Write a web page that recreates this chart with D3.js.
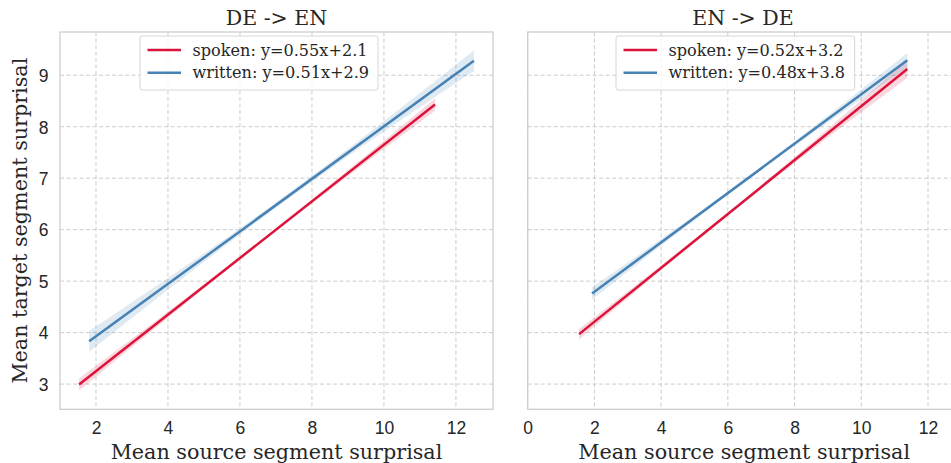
<!DOCTYPE html>
<html lang="en">
<head>
    <meta charset="UTF-8">
    <title>Surprisal regression</title>
    <script src="https://d3js.org/d3.v7.min.js"></script>
    <style>
        body {
            margin: 0;
            background: #fff;
            font-family: "DejaVu Serif", serif;
        }
        .grid line {
            stroke: #cccccc;
            stroke-dasharray: 4,2.5;
            stroke-width: 1;
        }
        .tick text {
            fill: #262626;
            font-size: 17.5px;
        }
    </style>
</head>
<body>
    <div id="chart"></div>
    <script>
        // values
        const panels = ['DE -> EN', 'EN -> DE'];
        const groups = ['spoken', 'written'];
        const legendLabels = [
            ['spoken: y=0.55x+2.1', 'written: y=0.51x+2.9'],
            ['spoken: y=0.52x+3.2', 'written: y=0.48x+3.8']
        ];
        const xDomains = [[1.0, 13.03], [0, 12.98]];
        const yDomain = [2.51, 9.84];
        const xTicks = [[2, 4, 6, 8, 10, 12], [0, 2, 4, 6, 8, 10, 12]];
        const yTicks = [3, 4, 5, 6, 7, 8, 9];

        // fitted line endpoints per panel / group
        const lineX = [
            [[1.53, 11.42], [1.81, 12.5]],
            [[1.54, 11.38], [1.93, 11.38]]
        ];
        const lineY = [
            [[2.99, 8.43], [3.83, 9.28]],
            [[3.97, 9.12], [4.76, 9.29]]
        ];
        // confidence band half-width at start, middle and end of each line
        const bandHalf = [
            [[0.12, 0.03, 0.12], [0.2, 0.05, 0.2]],
            [[0.1, 0.03, 0.17], [0.12, 0.03, 0.14]]
        ];

        const colors = ['#dc143c', '#4682b4'];

        const width = 951, height = 463;
        const plotLeft = [60, 527.7];
        const plotW = 433;
        const plotTop = 32, plotBottom = 409.3;

        const svg = d3.select('#chart').append('svg')
            .attr('width', width)
            .attr('height', height);

        const y = d3.scaleLinear().domain(yDomain).range([plotBottom, plotTop]);

        panels.forEach((title, p) => {
            const x = d3.scaleLinear().domain(xDomains[p]).range([plotLeft[p], plotLeft[p] + plotW]);
            const g = svg.append('g');

            // grid
            g.append('g').attr('class', 'grid')
                .selectAll('line.v').data(xTicks[p]).enter().append('line')
                .attr('x1', d => x(d)).attr('x2', d => x(d))
                .attr('y1', plotTop).attr('y2', plotBottom);
            g.append('g').attr('class', 'grid')
                .selectAll('line.h').data(yTicks).enter().append('line')
                .attr('x1', plotLeft[p]).attr('x2', plotLeft[p] + plotW)
                .attr('y1', d => y(d)).attr('y2', d => y(d));

            // bands + lines
            groups.forEach((grp, i) => {
                const [x0, x1] = lineX[p][i];
                const [y0, y1] = lineY[p][i];
                const pts = [
                    { x: x0, y: y0, h: bandHalf[p][i][0] },
                    { x: (x0 + x1) / 2, y: (y0 + y1) / 2, h: bandHalf[p][i][1] },
                    { x: x1, y: y1, h: bandHalf[p][i][2] }
                ];
                const area = d3.area()
                    .curve(d3.curveNatural)
                    .x(d => x(d.x))
                    .y0(d => y(d.y - d.h))
                    .y1(d => y(d.y + d.h));
                g.append('path')
                    .datum(pts)
                    .attr('d', area)
                    .attr('fill', colors[i])
                    .attr('fill-opacity', 0.17);
                const line = d3.line().x(d => x(d.x)).y(d => y(d.y));
                g.append('path')
                    .datum([pts[0], pts[2]])
                    .attr('d', line)
                    .attr('fill', 'none')
                    .attr('stroke', colors[i])
                    .attr('stroke-width', 2.5);
            });

            // frame
            g.append('rect')
                .attr('x', plotLeft[p]).attr('y', plotTop)
                .attr('width', plotW).attr('height', plotBottom - plotTop)
                .attr('fill', 'none')
                .attr('stroke', '#cccccc')
                .attr('stroke-width', 1.25);

            // axes
            const xAxis = g.append('g')
                .attr('transform', `translate(0,${plotBottom})`)
                .call(d3.axisBottom(x).tickValues(xTicks[p]).tickSize(0).tickPadding(12.3));
            xAxis.select('.domain').remove();

            if (p === 0) {
                const yAxis = g.append('g')
                    .attr('transform', `translate(${plotLeft[p]},0)`)
                    .call(d3.axisLeft(y).tickValues(yTicks).tickSize(0).tickPadding(11.5));
                yAxis.select('.domain').remove();
                yAxis.selectAll('.tick text').attr('dy', '0.36em');

                g.append('text')
                    .attr('transform', `translate(27.3,${(plotTop + plotBottom) / 2}) rotate(-90)`)
                    .attr('text-anchor', 'middle')
                    .attr('fill', '#262626')
                    .style('font-size', '20.7px')
                    .text('Mean target segment surprisal');
            }

            g.append('text')
                .attr('x', plotLeft[p] + plotW / 2)
                .attr('y', 459.3)
                .attr('text-anchor', 'middle')
                .attr('fill', '#262626')
                .style('font-size', '20.7px')
                .text('Mean source segment surprisal');

            g.append('text')
                .attr('x', p === 0 ? 276.5 : 743)
                .attr('y', 25)
                .attr('text-anchor', 'middle')
                .attr('fill', '#262626')
                .style('font-size', '20.5px')
                .text(title);

            // legend
            const lx = p === 0 ? 140 : 616;
            const lw = p === 0 ? 238 : 238.7;
            const leg = g.append('g');
            leg.append('rect')
                .attr('x', lx).attr('y', 36)
                .attr('width', lw).attr('height', 54)
                .attr('rx', 2)
                .attr('fill', '#fff').attr('fill-opacity', 0.8)
                .attr('stroke', '#d6d6d6');
            legendLabels[p].forEach((lab, i) => {
                const ly = 50 + i * 22.7;
                leg.append('line')
                    .attr('x1', lx + 7.5).attr('x2', lx + 41)
                    .attr('y1', ly).attr('y2', ly)
                    .attr('stroke', colors[i])
                    .attr('stroke-width', 2.5);
                leg.append('text')
                    .attr('x', lx + 52.5)
                    .attr('y', ly)
                    .attr('dy', '0.35em')
                    .attr('fill', '#262626')
                    .style('font-size', '16.1px')
                    .text(lab);
            });
        });
    </script>
</body>
</html>
